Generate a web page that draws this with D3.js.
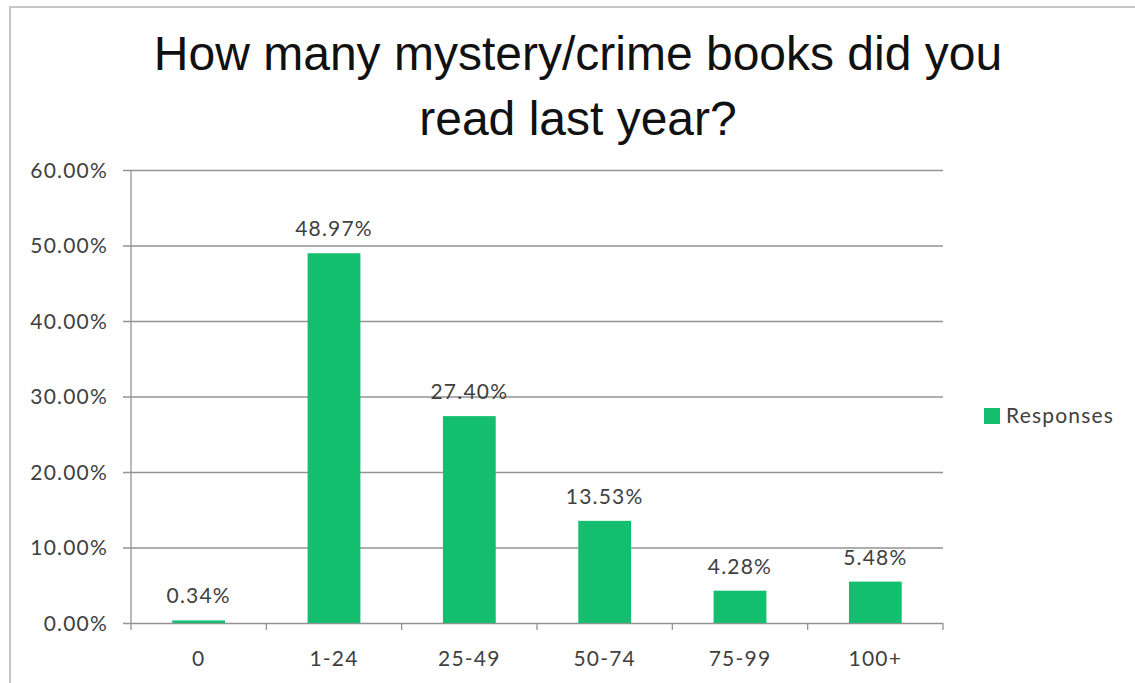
<!DOCTYPE html>
<html>
<head>
<meta charset="utf-8">
<script src="https://cdn.jsdelivr.net/npm/d3@7"></script>
<style>
  html, body { margin: 0; padding: 0; background: #fff; }
  svg { display: block; }
</style>
</head>
<body>
<svg id="chart" width="1135" height="683"></svg>
<script>
const categories = ["0", "1-24", "25-49", "50-74", "75-99", "100+"];
const values = [0.34, 48.97, 27.40, 13.53, 4.28, 5.48];
const yTicks = [0, 10, 20, 30, 40, 50, 60];
const titleLines = ["How many mystery/crime books did you", "read last year?"];
const seriesName = "Responses";

const svg = d3.select("#chart");
const W = 1135, H = 683;
const plot = { left: 131, right: 943, top: 170, bottom: 623 };
const green = "#13BE6E";
const gridColor = "#939393";
const textColor = "#404040";
const smallFont = "Lato, 'Liberation Sans', sans-serif";
const ls = 1.2;

// outer border (only top and left visible)
svg.append("rect")
  .attr("x", 10).attr("y", 7)
  .attr("width", W + 20).attr("height", H + 20)
  .attr("fill", "#fff")
  .attr("stroke", "#c6c6c6").attr("stroke-width", 2);

// title
svg.append("g").selectAll("text").data(titleLines).join("text")
  .attr("x", 578)
  .attr("y", (d, i) => 70 + i * 65)
  .attr("text-anchor", "middle")
  .attr("font-family", "'Liberation Sans', Arial, sans-serif")
  .attr("font-size", 48)
  .attr("fill", "#111")
  .text(d => d);

const x = d3.scaleBand()
  .domain(categories)
  .range([plot.left, plot.right])
  .paddingInner(0.61)
  .paddingOuter(0.305);

const y = d3.scaleLinear()
  .domain([0, 60])
  .range([plot.bottom, plot.top]);

// gridlines + y ticks
const yAxis = d3.axisLeft(y)
  .tickValues(yTicks)
  .tickSize(0)
  .tickPadding(0)
  .tickFormat(d => d.toFixed(2) + "%");

const gy = svg.append("g").attr("transform", `translate(${plot.left},0)`).call(yAxis);
gy.select(".domain").remove();
gy.selectAll(".tick line")
  .attr("x1", -8).attr("x2", plot.right - plot.left)
  .attr("stroke", gridColor).attr("stroke-width", 1.3);
gy.selectAll(".tick text")
  .attr("x", -23)
  .attr("dy", "0.35em")
  .attr("font-family", smallFont)
  .attr("font-size", 21)
  .attr("letter-spacing", ls)
  .attr("fill", textColor);

// left axis line
svg.append("line")
  .attr("x1", plot.left).attr("x2", plot.left)
  .attr("y1", plot.top).attr("y2", plot.bottom)
  .attr("stroke", gridColor).attr("stroke-width", 1.3);

// bottom axis with boundary ticks
const step = x.step();
const gap = step - x.bandwidth();
const boundaries = categories.map(c => x(c) - gap / 2).concat([x(categories[categories.length - 1]) + x.bandwidth() + gap / 2]);
svg.append("g").selectAll("line").data(boundaries).join("line")
  .attr("x1", d => d).attr("x2", d => d)
  .attr("y1", plot.bottom).attr("y2", plot.bottom + 7)
  .attr("stroke", gridColor).attr("stroke-width", 1.3);

const xAxis = d3.axisBottom(x).tickSize(0).tickPadding(0);
const gx = svg.append("g").attr("transform", `translate(0,${plot.bottom})`).call(xAxis);
gx.select(".domain").remove();
gx.selectAll(".tick text")
  .attr("y", 36)
  .attr("dy", "0.35em")
  .attr("font-family", smallFont)
  .attr("font-size", 21)
  .attr("letter-spacing", ls)
  .attr("fill", textColor);

// bars
svg.append("g").selectAll("rect").data(values).join("rect")
  .attr("x", (d, i) => x(categories[i]))
  .attr("width", x.bandwidth())
  .attr("y", d => y(d))
  .attr("height", d => y(0) - y(d))
  .attr("fill", green);

// data labels
svg.append("g").selectAll("text").data(values).join("text")
  .attr("x", (d, i) => x(categories[i]) + x.bandwidth() / 2)
  .attr("y", d => y(d) - 17)
  .attr("text-anchor", "middle")
  .attr("font-family", smallFont)
  .attr("font-size", 21)
  .attr("letter-spacing", ls)
  .attr("fill", textColor)
  .text(d => d.toFixed(2) + "%");

// legend
const lg = svg.append("g");
lg.append("rect").attr("x", 984).attr("y", 408).attr("width", 16).attr("height", 16).attr("fill", green);
lg.append("text")
  .attr("x", 1006).attr("y", 416)
  .attr("dy", "0.35em")
  .attr("font-family", smallFont)
  .attr("font-size", 21)
  .attr("letter-spacing", ls)
  .attr("fill", textColor)
  .text(seriesName);
</script>
</body>
</html>
